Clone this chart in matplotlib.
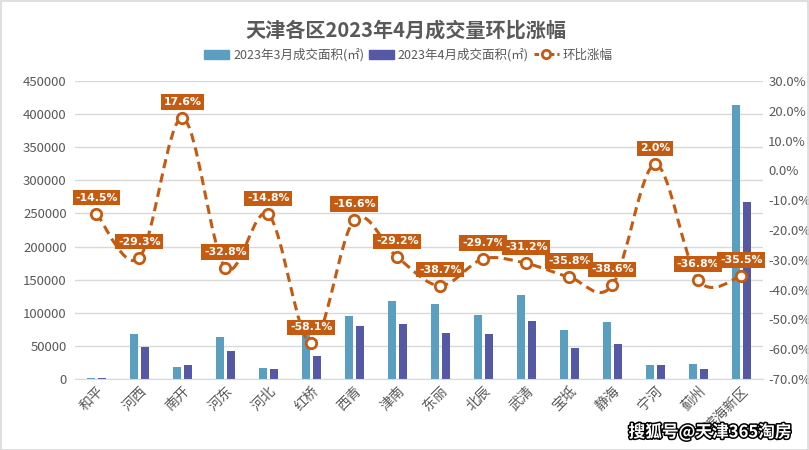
import numpy as np
import matplotlib
matplotlib.use("Agg")
import matplotlib.pyplot as plt
from matplotlib.path import Path
from matplotlib.patches import PathPatch, Patch, Rectangle
from matplotlib.lines import Line2D
from matplotlib.ticker import FuncFormatter
import matplotlib.patheffects as pe

plt.rcParams['font.family'] = ['Noto Sans CJK SC', 'DejaVu Sans']

# data
districts = ['和平', '河西', '南开', '河东', '河北', '红桥', '西青', '津南',
             '东丽', '北辰', '武清', '宝坻', '静海', '宁河', '蓟州', '滨海新区']
march = [1800, 67800, 18000, 63200, 16600, 82300, 94900, 117500,
         113000, 96400, 126500, 73800, 85800, 20500, 22600, 413000]
april = [1600, 48200, 21000, 42200, 15000, 34600, 79800, 82800,
         69300, 67800, 87300, 46700, 52700, 20900, 14300, 266600]
change = [-14.5, -29.3, 17.6, -32.8, -14.8, -58.1, -16.6, -29.2,
          -38.7, -29.7, -31.2, -35.8, -38.6, 2.0, -36.8, -35.5]

c_mar = '#5A9EC0'
c_apr = '#5458A5'
c_line = '#C55A11'
c_text = '#595959'

fig = plt.figure(figsize=(8.09, 4.5), dpi=100)
fig.patches.append(Rectangle((0.001, 0.001), 0.998, 0.997, transform=fig.transFigure,
                             fill=False, ec='#D9D9D9', lw=1.2))

ax = fig.add_axes([0.0927, 0.158, 0.850, 0.662])
x = np.arange(len(districts))
w = 0.19
ax.bar(x - 0.128, march, w, color=c_mar, zorder=2)
ax.bar(x + 0.128, april, w, color=c_apr, zorder=2)
ax.set_xlim(-0.5, len(districts) - 0.5)
ax.set_ylim(0, 450000)
ax.set_yticks(np.arange(0, 450001, 50000))
ax.yaxis.grid(True, color='#D9D9D9', lw=1)
ax.set_axisbelow(True)
for s in ['top', 'right', 'left']:
    ax.spines[s].set_visible(False)
ax.spines['bottom'].set_color('#D9D9D9')
ax.tick_params(length=0, colors=c_text, labelsize=9.5)
ax.tick_params(axis='y', pad=6)
ax.set_xticks(x)
ax.set_xticklabels(districts, rotation=45, ha='right', va='top',
                   rotation_mode='anchor', fontsize=10)

ax2 = ax.twinx()
ax2.set_ylim(-70, 30)
ax2.set_yticks(np.arange(-70, 31, 10))
ax2.yaxis.set_major_formatter(FuncFormatter(lambda v, p: f'{v:.1f}%'))
for s in ax2.spines.values():
    s.set_visible(False)
ax2.tick_params(length=0, colors=c_text, labelsize=9.5, pad=4)

# smoothed line (bezier through data points)
pts = np.column_stack([x, change]).astype(float)
verts = [pts[0]]
codes = [Path.MOVETO]
n = len(pts)
for i in range(n - 1):
    p0 = pts[max(i - 1, 0)]
    p1 = pts[i]
    p2 = pts[i + 1]
    p3 = pts[min(i + 2, n - 1)]
    verts += [p1 + (p2 - p0) / 6, p2 - (p3 - p1) / 6, p2]
    codes += [Path.CURVE4] * 3
ax2.add_patch(PathPatch(Path(verts, codes), fill=False, ec=c_line, lw=2.2,
                        ls=(0, (3, 1.8)), zorder=3))
ax2.plot(x, change, ls='none', marker='o', ms=7.5, mfc='white', mec=c_line,
         mew=2, zorder=4)

for xi, v in zip(x, change):
    ax2.annotate(f'{v:.1f}%', (xi, v), xytext=(0, 16), textcoords='offset pixels',
                 ha='center', va='center', color='white', fontsize=7.8,
                 fontweight='bold', family=['Liberation Sans Narrow', 'DejaVu Sans'],
                 bbox=dict(boxstyle='square,pad=0.25', fc=c_line, ec='none'),
                 zorder=5)

fig.text(0.502, 0.934, '天津各区2023年4月成交量环比涨幅', ha='center', va='center',
         fontsize=14.5, fontweight='bold', color=c_text)

handles = [Patch(color=c_mar), Patch(color=c_apr),
           Line2D([], [], color=c_line, lw=2.2, ls=(0, (1.5, 1)), marker='o', ms=6,
                  mfc='white', mec=c_line, mew=2)]
labels = ['2023年3月成交面积(㎡)', '2023年4月成交面积(㎡)', '环比涨幅']
fig.legend(handles, labels, loc='center', bbox_to_anchor=(0.505, 0.878), ncol=3,
           frameon=False, fontsize=9, handlelength=2.0, handleheight=0.7,
           columnspacing=0.4, handletextpad=0.3, labelcolor=c_text)

fig.text(0.978, 0.04, '搜狐号@天津365淘房', ha='right', va='center', fontsize=12,
         fontweight='bold', color='white',
         path_effects=[pe.withStroke(linewidth=2.2, foreground='black')])

fig.savefig('out.png', dpi=100)
